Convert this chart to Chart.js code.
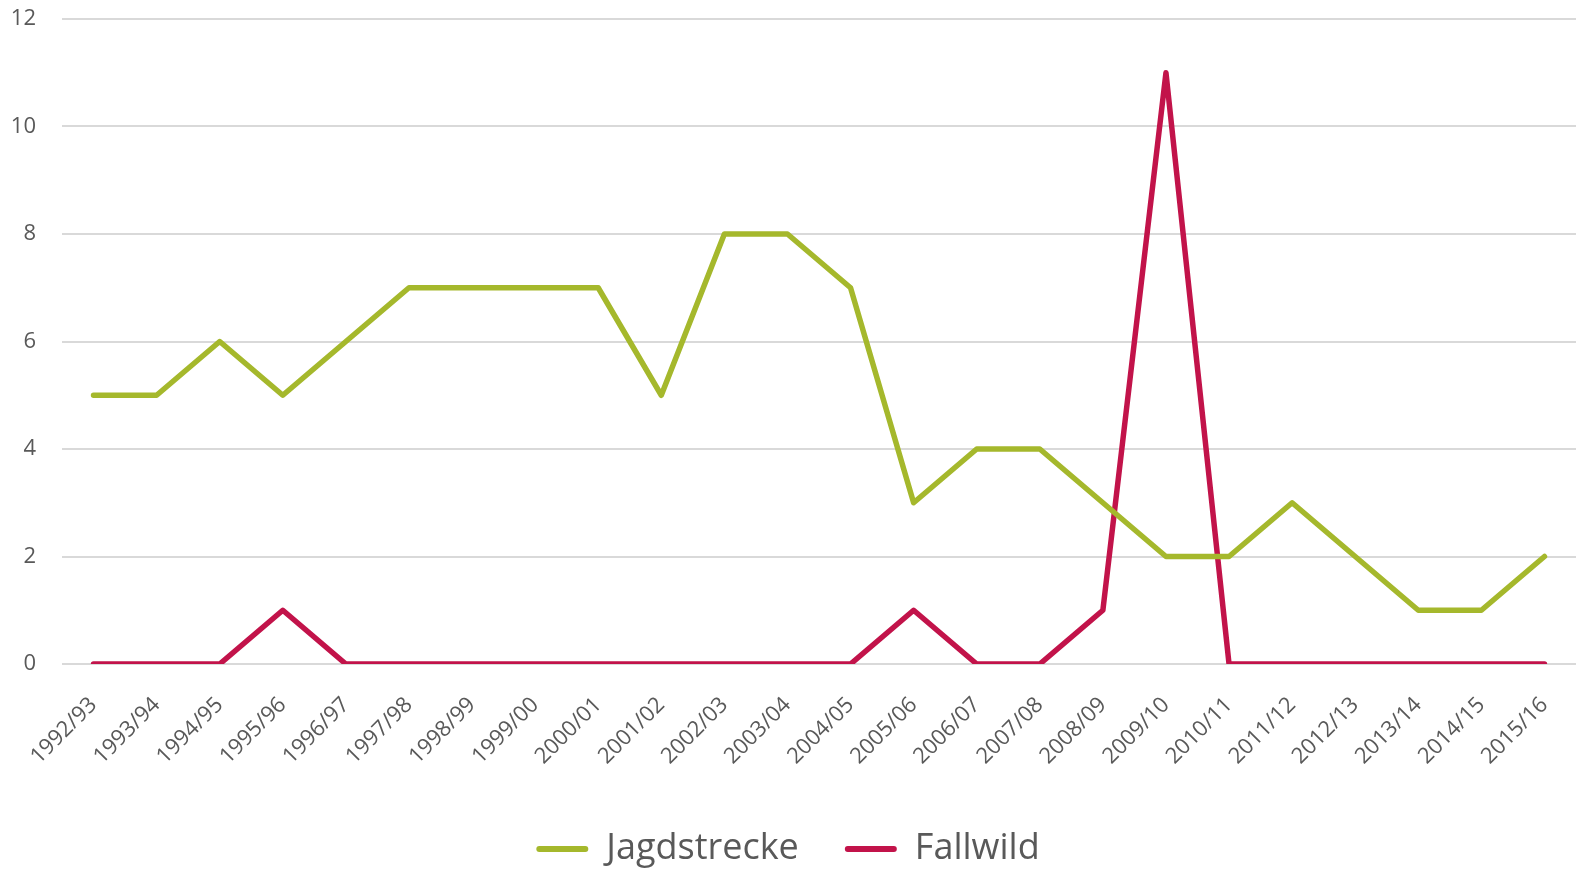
<!DOCTYPE html>
<html>
<head>
<meta charset="utf-8">
<script src="https://cdn.jsdelivr.net/npm/chart.js@4"></script>
<style>
html,body{margin:0;padding:0;background:#fff;}
#wrap{width:1576px;height:869px;}
</style>
</head>
<body>
<div id="wrap"><canvas id="c" width="1576" height="869"></canvas></div>
<script>
const categories = ["1992/93","1993/94","1994/95","1995/96","1996/97","1997/98","1998/99","1999/00","2000/01","2001/02","2002/03","2003/04","2004/05","2005/06","2006/07","2007/08","2008/09","2009/10","2010/11","2011/12","2012/13","2013/14","2014/15","2015/16"];
const jagdstrecke = [5,5,6,5,6,7,7,7,7,5,8,8,7,3,4,4,3,2,2,3,2,1,1,2];
const fallwild = [0,0,0,1,0,0,0,0,0,0,0,0,0,1,0,0,1,11,0,0,0,0,0,0];
const yTicks = [0,2,4,6,8,10,12];

const GREEN = '#A5B82C';
const RED = '#C2134A';
const TEXT = '#595959';
const FONT = "'Open Sans', 'Noto Sans', sans-serif";

new Chart(document.getElementById('c'), {
  type: 'line',
  data: {
    labels: categories,
    datasets: [
      {label: 'Jagdstrecke', data: jagdstrecke, borderColor: GREEN, backgroundColor: GREEN, borderWidth: 5.5, pointRadius: 0, tension: 0, borderCapStyle: 'round', borderJoinStyle: 'round'},
      {label: 'Fallwild', data: fallwild, borderColor: RED, backgroundColor: RED, borderWidth: 5.5, pointRadius: 0, tension: 0, borderCapStyle: 'round', borderJoinStyle: 'round'}
    ]
  },
  options: {
    responsive: false,
    animation: false,
    layout: {padding: {top: 19, right: 0, left: 0, bottom: -8}},
    plugins: {
      tooltip: {enabled: false},
      legend: {
        position: 'bottom',
        labels: {
          color: TEXT,
          font: {family: FONT, size: 36, lineHeight: 0.9},
          boxWidth: 52,
          boxHeight: 6,
          padding: 46,
          generateLabels: (chart) => chart.data.datasets.map((d, i) => ({
            text: d.label, fillStyle: d.borderColor, strokeStyle: d.borderColor, lineWidth: 0, borderRadius: 3, datasetIndex: i, fontColor: TEXT
          }))
        }
      }
    },
    scales: {
      x: {
        offset: true,
        grid: {display: false},
        border: {display: false},
        afterFit: (s) => { s.height = 121; s.paddingLeft = 0; s.paddingRight = 0; },
        ticks: {color: TEXT, font: {family: FONT, size: 22}, minRotation: 45, maxRotation: 45, autoSkip: false, padding: 20}
      },
      y: {
        min: 0, max: 12,
        afterBuildTicks: (s) => { s.ticks = yTicks.map(v => ({value: v})); },
        afterFit: (s) => { s.width = 62; s.paddingTop = 0; s.paddingBottom = 0; },
        grid: {color: '#d9d9d9', lineWidth: 2, drawTicks: false},
        border: {display: false},
        ticks: {color: TEXT, font: {family: FONT, size: 22}, padding: 26}
      }
    }
  }
});
</script>
</body>
</html>
